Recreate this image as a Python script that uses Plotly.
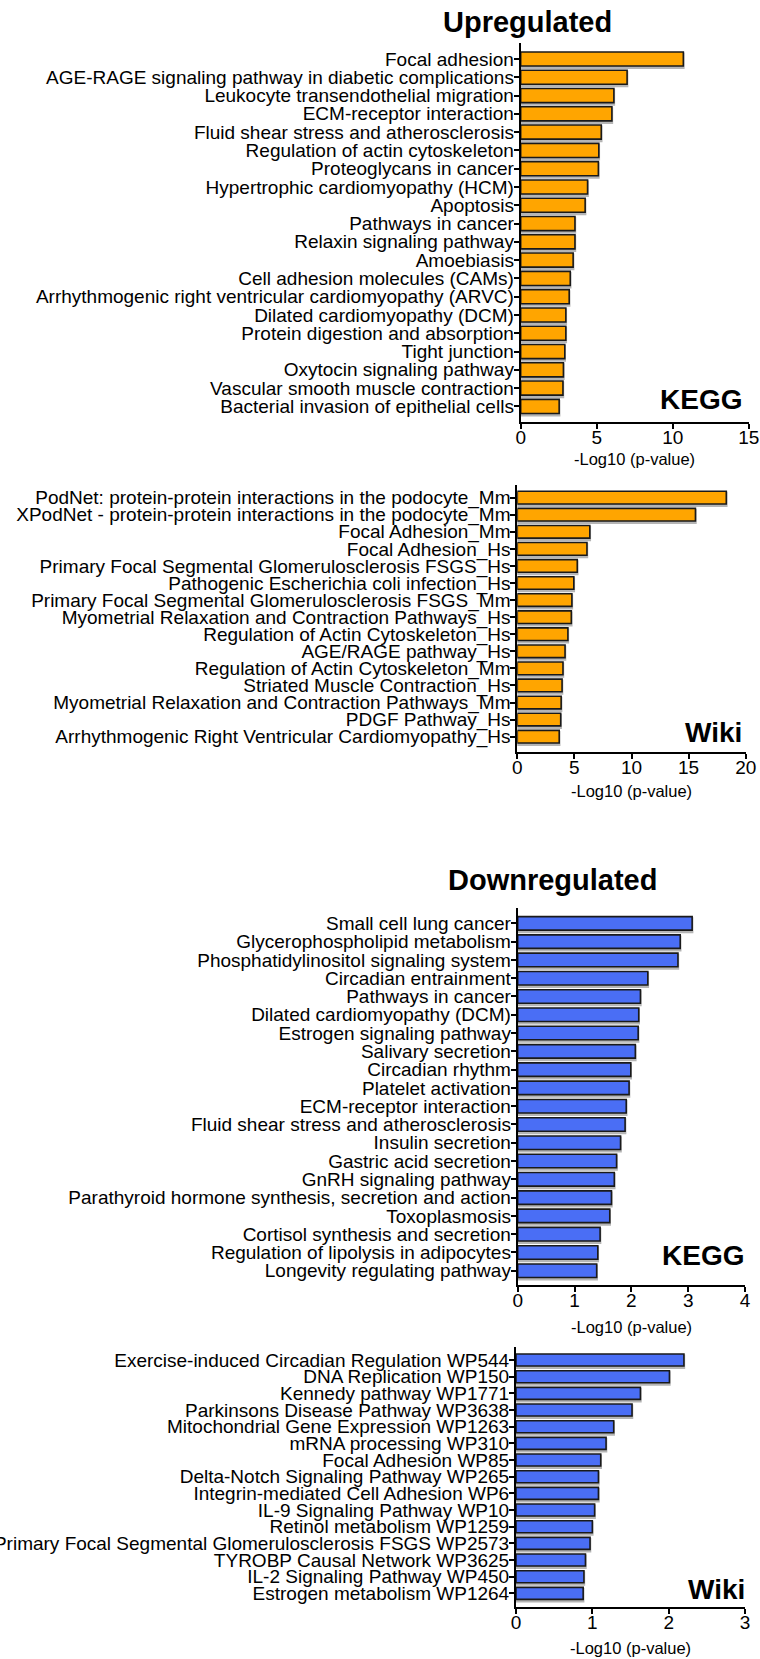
import plotly.graph_objects as go

# ---------------- data ----------------
up_kegg_labels = [
    "Focal adhesion",
    "AGE-RAGE signaling pathway in diabetic complications",
    "Leukocyte transendothelial migration",
    "ECM-receptor interaction",
    "Fluid shear stress and atherosclerosis",
    "Regulation of actin cytoskeleton",
    "Proteoglycans in cancer",
    "Hypertrophic cardiomyopathy (HCM)",
    "Apoptosis",
    "Pathways in cancer",
    "Relaxin signaling pathway",
    "Amoebiasis",
    "Cell adhesion molecules (CAMs)",
    "Arrhythmogenic right ventricular cardiomyopathy (ARVC)",
    "Dilated cardiomyopathy (DCM)",
    "Protein digestion and absorption",
    "Tight junction",
    "Oxytocin signaling pathway",
    "Vascular smooth muscle contraction",
    "Bacterial invasion of epithelial cells",
]
up_kegg_values = [10.7, 7.0, 6.13, 6.0, 5.3, 5.14, 5.11, 4.4, 4.24, 3.57,
                  3.57, 3.45, 3.26, 3.19, 2.97, 2.97, 2.9, 2.81, 2.78, 2.53]

up_wiki_labels = [
    "PodNet: protein-protein interactions in the podocyte_Mm",
    "XPodNet - protein-protein interactions in the podocyte_Mm",
    "Focal Adhesion_Mm",
    "Focal Adhesion_Hs",
    "Primary Focal Segmental Glomerulosclerosis FSGS_Hs",
    "Pathogenic Escherichia coli infection_Hs",
    "Primary Focal Segmental Glomerulosclerosis FSGS_Mm",
    "Myometrial Relaxation and Contraction Pathways_Hs",
    "Regulation of Actin Cytoskeleton_Hs",
    "AGE/RAGE pathway_Hs",
    "Regulation of Actin Cytoskeleton_Mm",
    "Striated Muscle Contraction_Hs",
    "Myometrial Relaxation and Contraction Pathways_Mm",
    "PDGF Pathway_Hs",
    "Arrhythmogenic Right Ventricular Cardiomyopathy_Hs",
]
up_wiki_values = [18.3, 15.6, 6.35, 6.1, 5.25, 4.95, 4.78, 4.73, 4.43, 4.18,
                  4.0, 3.92, 3.84, 3.8, 3.67]

down_kegg_labels = [
    "Small cell lung cancer",
    "Glycerophospholipid metabolism",
    "Phosphatidylinositol signaling system",
    "Circadian entrainment",
    "Pathways in cancer",
    "Dilated cardiomyopathy (DCM)",
    "Estrogen signaling pathway",
    "Salivary secretion",
    "Circadian rhythm",
    "Platelet activation",
    "ECM-receptor interaction",
    "Fluid shear stress and atherosclerosis",
    "Insulin secretion",
    "Gastric acid secretion",
    "GnRH signaling pathway",
    "Parathyroid hormone synthesis, secretion and action",
    "Toxoplasmosis",
    "Cortisol synthesis and secretion",
    "Regulation of lipolysis in adipocytes",
    "Longevity regulating pathway",
]
down_kegg_values = [3.07, 2.86, 2.82, 2.29, 2.16, 2.13, 2.12, 2.07, 1.99, 1.96,
                    1.91, 1.89, 1.81, 1.74, 1.70, 1.65, 1.62, 1.45, 1.41, 1.39]

down_wiki_labels = [
    "Exercise-induced Circadian Regulation WP544",
    "DNA Replication WP150",
    "Kennedy pathway WP1771",
    "Parkinsons Disease Pathway WP3638",
    "Mitochondrial Gene Expression WP1263",
    "mRNA processing WP310",
    "Focal Adhesion WP85",
    "Delta-Notch Signaling Pathway WP265",
    "Integrin-mediated Cell Adhesion WP6",
    "IL-9 Signaling Pathway WP10",
    "Retinol metabolism WP1259",
    "Primary Focal Segmental Glomerulosclerosis FSGS WP2573",
    "TYROBP Causal Network WP3625",
    "IL-2 Signaling Pathway WP450",
    "Estrogen metabolism WP1264",
]
down_wiki_values = [2.20, 2.01, 1.63, 1.52, 1.28, 1.18, 1.11, 1.08, 1.08, 1.03,
                    1.0, 0.97, 0.91, 0.89, 0.88]

x_ticks_up_kegg = [0, 5, 10, 15]
x_ticks_up_wiki = [0, 5, 10, 15, 20]
x_ticks_down_kegg = [0, 1, 2, 3, 4]
x_ticks_down_wiki = [0, 1, 2, 3]

x_title = "-Log10 (p-value)"

# ---------------- layout helpers ----------------
W, H = 760, 1659
FONT = "Liberation Sans, Arial, Helvetica, sans-serif"
ORANGE = "#FFA500"
BLUE = "#4A6EF5"
SHADOW = "#b5b5b5"


def px_x(p):
    return p / W


def px_y(p):
    return 1 - p / H


panels = [
    dict(labels=up_kegg_labels, values=up_kegg_values, color=ORANGE, ticks=x_ticks_up_kegg,
         xd=(520.7, 748.7), yd=(42.7, 422.3), yr=(19.87, -0.89), bw=0.77,
         tag="KEGG", tag_xy=(744, 397.3), title_y=459.3),
    dict(labels=up_wiki_labels, values=up_wiki_values, color=ORANGE, ticks=x_ticks_up_wiki,
         xd=(517.3, 745.7), yd=(485.0, 751.7), yr=(14.88, -0.74), bw=0.74,
         tag="Wiki", tag_xy=(744, 730.0), title_y=790.7),
    dict(labels=down_kegg_labels, values=down_kegg_values, color=BLUE, ticks=x_ticks_down_kegg,
         xd=(517.7, 745.0), yd=(908.0, 1285.0), yr=(19.78, -0.84), bw=0.74,
         tag="KEGG", tag_xy=(746, 1253.3), title_y=1326.7),
    dict(labels=down_wiki_labels, values=down_wiki_values, color=BLUE, ticks=x_ticks_down_wiki,
         xd=(516.0, 745.0), yd=(1346.7, 1606.7), yr=(14.8, -0.8), bw=0.72,
         tag="Wiki", tag_xy=(747, 1587.0), title_y=1648.3),
]

fig = go.Figure()
annotations = []

for i, p in enumerate(panels, start=1):
    xa = "x" if i == 1 else f"x{i}"
    ya = "y" if i == 1 else f"y{i}"
    row_px = (p["yd"][1] - p["yd"][0]) / (p["yr"][0] - p["yr"][1])
    shift = 1.8 / row_px  # shadow offset of ~1.8 px downwards
    # soft grey drop shadow behind each bar
    fig.add_trace(go.Bar(
        x=p["values"], y=p["labels"], orientation="h",
        marker=dict(color=SHADOW, line=dict(color=SHADOW, width=2.5)),
        width=p["bw"], offset=-p["bw"] / 2 + shift,
        xaxis=xa, yaxis=ya, showlegend=False, hoverinfo="skip",
    ))
    fig.add_trace(go.Bar(
        x=p["values"], y=p["labels"], orientation="h",
        marker=dict(color=p["color"], line=dict(color="#1a1a1a", width=1.6)),
        width=p["bw"], offset=-p["bw"] / 2,
        xaxis=xa, yaxis=ya, showlegend=False,
        hoverinfo="x+y",
    ))
    xkey = "xaxis" if i == 1 else f"xaxis{i}"
    ykey = "yaxis" if i == 1 else f"yaxis{i}"
    fig.update_layout({
        xkey: dict(
            domain=[px_x(p["xd"][0]), px_x(p["xd"][1])],
            anchor=ya, range=[0, p["ticks"][-1]], autorange=False,
            tickmode="array", tickvals=p["ticks"],
            ticktext=[str(t) for t in p["ticks"]],
            showline=True, linecolor="black", linewidth=2,
            ticks="outside", ticklen=5, tickwidth=2, tickcolor="black",
            ticklabelstandoff=-8,
            showgrid=False, zeroline=False, automargin=False,
            tickfont=dict(family=FONT, size=19, color="black"),
        ),
        ykey: dict(
            domain=[px_y(p["yd"][1]), px_y(p["yd"][0])],
            anchor=xa, type="category",
            categoryorder="array", categoryarray=p["labels"],
            tickmode="array", tickvals=p["labels"], ticktext=p["labels"],
            range=list(p["yr"]), autorange=False,
            showline=True, linecolor="black", linewidth=2,
            ticks="outside", ticklen=5, tickwidth=2, tickcolor="black",
            ticklabelstandoff=-4,
            showgrid=False, zeroline=False, automargin=False,
            tickfont=dict(family=FONT, size=19, color="black"),
        ),
    })
    annotations.append(dict(
        text=x_title, xref="paper", yref="paper",
        x=px_x((p["xd"][0] + p["xd"][1]) / 2), y=px_y(p["title_y"]),
        xanchor="center", yanchor="middle", showarrow=False,
        font=dict(family=FONT, size=16.5, color="black"),
    ))
    annotations.append(dict(
        text=p["tag"], xref="paper", yref="paper",
        x=px_x(p["tag_xy"][0]), y=px_y(p["tag_xy"][1] + 2),
        xanchor="right", yanchor="middle", showarrow=False,
        font=dict(family=FONT, size=28, color="black", weight="bold"),
    ))

annotations.append(dict(
    text="Upregulated", xref="paper", yref="paper",
    x=px_x(527), y=px_y(22), xanchor="center", yanchor="middle", showarrow=False,
    font=dict(family=FONT, size=29, color="black", weight="bold"),
))
annotations.append(dict(
    text="Downregulated", xref="paper", yref="paper",
    x=px_x(552.3), y=px_y(880), xanchor="center", yanchor="middle", showarrow=False,
    font=dict(family=FONT, size=29, color="black", weight="bold"),
))

fig.update_layout(
    template="none",
    width=W, height=H,
    margin=dict(l=0, r=0, t=0, b=0, pad=0),
    paper_bgcolor="white", plot_bgcolor="white",
    showlegend=False,
    barmode="overlay",
    annotations=annotations,
    font=dict(family=FONT, color="black"),
)

fig.write_html("out.html", config={"displayModeBar": False},
               post_script="document.body.style.margin='0';")
